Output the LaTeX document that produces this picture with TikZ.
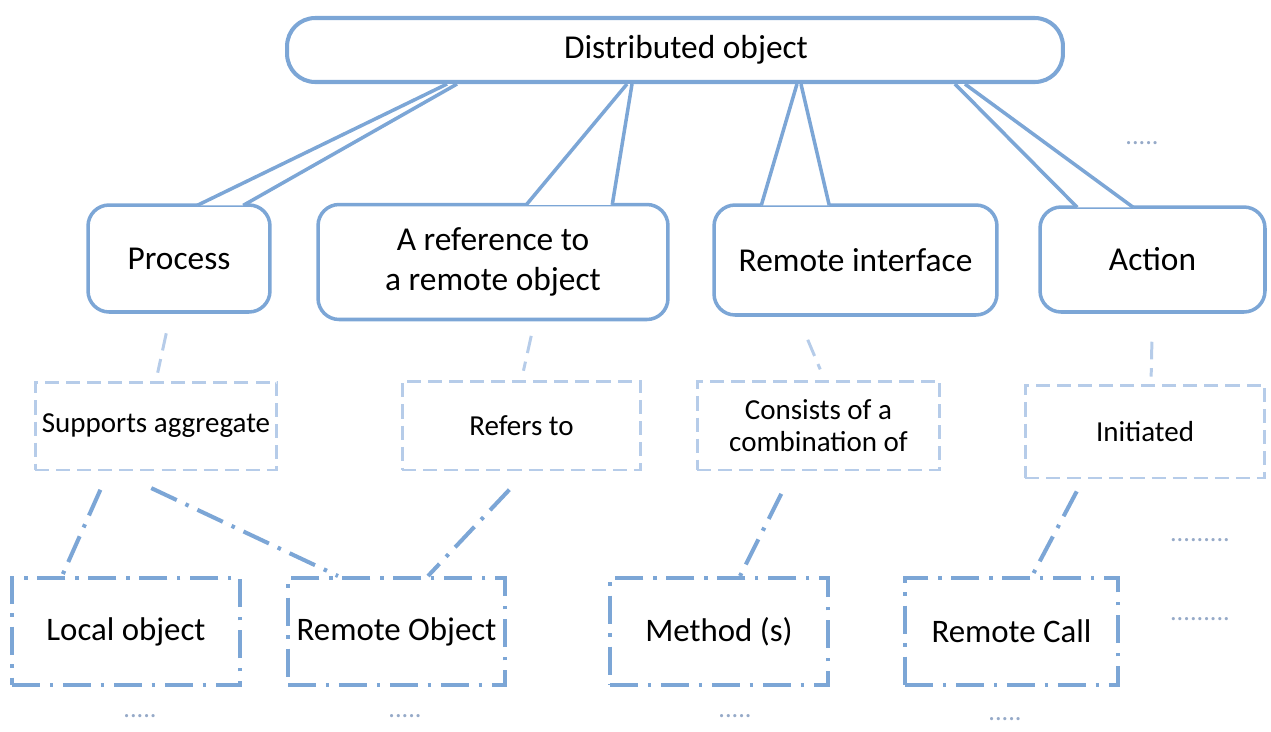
\documentclass[tikz,border=0pt]{standalone}
\usepackage{fontspec}
\setmainfont{Carlito}
\usepackage{tikz}
\usetikzlibrary{positioning,calc}

\definecolor{lineblue}{RGB}{124,166,214}
\definecolor{paleblue}{RGB}{182,204,233}
\definecolor{dotgray}{RGB}{150,170,200}

\tikzset{
  topnode/.style={draw=lineblue, line width=2.3pt, fill=white, rounded corners=16pt,
    minimum width=15.52cm, minimum height=1.28cm, font=\fontsize{19}{23}\selectfont},
  callout/.style={draw=lineblue, line width=2pt, fill=white, rounded corners=12pt,
    align=center, font=\fontsize{19}{23}\selectfont},
  linkbox/.style={draw=paleblue, line width=1.7pt, dash pattern=on 8pt off 4pt,
    align=center, font=\fontsize{16.5}{18.5}\selectfont},
  itembox/.style={draw=lineblue, line width=2.3pt, dash pattern=on 16pt off 5.5pt on 2pt off 5.5pt,
    minimum height=2.14cm, font=\fontsize{18.7}{22}\selectfont},
  dashlink/.style={draw=paleblue, line width=1.7pt, dash pattern=on 10pt off 5pt},
  dotlink/.style={draw=lineblue, line width=2.3pt, dash pattern=on 16pt off 5.5pt on 2pt off 5.5pt},
  pointer/.style={draw=lineblue, line width=2pt, line join=round},
  dotlabel/.style={text=dotgray, font=\fontsize{15}{18}\selectfont}
}

\begin{document}
\begin{tikzpicture}[x=0.02cm, y=-0.02cm]
    \useasboundingbox (0,0) rectangle (1271,731);

    % Root
    \node[topnode] (root) at (675,50) {\hspace{0.44cm}Distributed object};

    % Second level (callouts)
    \node[callout, minimum width=3.64cm, minimum height=2.14cm] (proc) at (179,258.5) {Process};
    \node[callout, minimum width=7cm, minimum height=2.3cm] (ref) at (493,262) {A reference to\\a remote object};
    \node[callout, minimum width=5.66cm, minimum height=2.2cm] (rint) at (855.5,260) {Remote interface};
    \node[callout, minimum width=4.5cm, minimum height=2.1cm] (act) at (1152.5,259.5) {Action};

    % Pointers of the callouts
    \foreach \cname/\bl/\br/\al/\ar in {proc/2.22/3.14/-4.56/-4.36, ref/4.2/5.92/-0.96/-0.86,
                                      rint/0.98/2.34/2.44/2.52, act/0.78/1.9/5.6/5.8} {
      \coordinate (\cname-b1) at ([xshift=\bl cm, yshift=-1.2pt]\cname.north west);
      \coordinate (\cname-b2) at ([xshift=\br cm, yshift=-1.2pt]\cname.north west);
      \coordinate (\cname-a1) at ([xshift=\al cm]root.south);
      \coordinate (\cname-a2) at ([xshift=\ar cm]root.south);
      \fill[white] (\cname-b1) -- (\cname-a1) -- (\cname-a2) -- (\cname-b2) -- cycle;
      \draw[pointer] (\cname-b1) -- (\cname-a1);
      \draw[pointer] (\cname-b2) -- (\cname-a2);
    }

    % Relations (dashed boxes)
    \node[linkbox, minimum width=4.84cm, minimum height=1.76cm] (sup) at (156,426) {Supports aggregate};
    \node[linkbox, minimum width=4.78cm, minimum height=1.78cm] (refto) at (521.5,425.5) {Refers to};
    \node[linkbox, minimum width=4.86cm, minimum height=1.78cm] (cons) at (818.5,425.5) {Consists of a\\combination of};
    \node[linkbox, minimum width=4.8cm, minimum height=1.86cm] (init) at (1145,431.5) {Initiated};

    \draw[dashlink, shorten <=0.4cm, shorten >=0.16cm] ([xshift=-0.17cm]proc.south) -- (sup.north);
    \draw[dashlink, shorten <=0.3cm, shorten >=0.18cm] ([xshift=0.83cm]ref.south) -- (refto.north);
    \draw[dashlink, shorten <=0.5cm, shorten >=0.22cm] ([xshift=-1.15cm]rint.south) -- ([xshift=0.12cm]cons.north);
    \draw[dashlink, shorten <=0.56cm, shorten >=0.14cm] (act.south) -- ([xshift=0.12cm]init.north);

    % Third level (dash-dotted boxes)
    \node[itembox, minimum width=4.56cm] (loc) at (126,631.5) {Local object};
    \node[itembox, minimum width=4.34cm] (robj) at (396.5,631.5) {Remote Object};
    \node[itembox, minimum width=4.36cm] (meth) at (719,631.5) {Method (s)};
    \node[itembox, minimum width=4.26cm] (rcall) at (1011.5,631.5) {Remote Call};

    \draw[dotlink, shorten <=0.4cm] ([xshift=-0.95cm]sup.south) -- ([xshift=-1.28cm]loc.north);
    \draw[dotlink, shorten <=0.78cm] ([xshift=-0.8cm]sup.south) -- ([xshift=-1.17cm]robj.north);
    \draw[dotlink, shorten <=0.5cm] ([xshift=0.1cm]refto.south) -- ([xshift=0.63cm]robj.north);
    \draw[dotlink, shorten <=0.5cm] ([xshift=-0.52cm]cons.south) -- ([xshift=0.42cm]meth.north);
    \draw[dotlink, shorten <=0.27cm] ([xshift=-1.24cm]init.south) -- ([xshift=0.41cm]rcall.north);

    % Omitted items
    \node[dotlabel] (more1) at (1142,143) {.....};
    \node[dotlabel] (more2) at (1200,540) {.........};
    \node[dotlabel] (more3) at (1200,619) {.........};
    \node[dotlabel] (more4) at (140,716) {.....};
    \node[dotlabel] (more5) at (405,716) {.....};
    \node[dotlabel] (more6) at (735,716) {.....};
    \node[dotlabel] (more7) at (1005,719) {.....};
\end{tikzpicture}
\end{document}
